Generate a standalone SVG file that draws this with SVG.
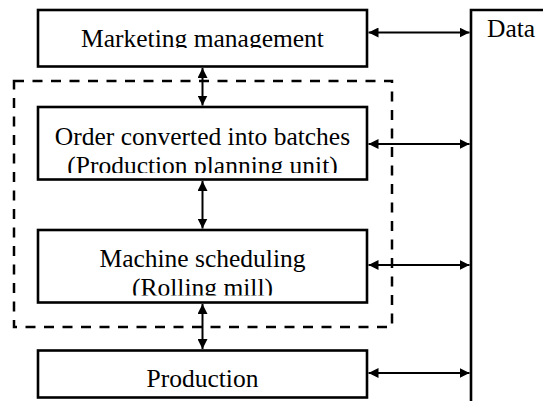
<svg xmlns="http://www.w3.org/2000/svg" width="543" height="401" viewBox="0 0 543 401">
<style>
.box{fill:#fff;stroke:#000;stroke-width:2.6}
.t{font-family:"Liberation Serif","Times New Roman",serif;font-size:25.5px;fill:#000;text-anchor:middle}
.c{stroke:#000;stroke-width:2;fill:none;marker-start:url(#ah);marker-end:url(#ah)}
</style>
<defs>
<marker id="ah" viewBox="0 0 10 10" refX="10" refY="5" markerWidth="10" markerHeight="10" markerUnits="userSpaceOnUse" orient="auto-start-reverse">
<path d="M0,0 L10,5 L0,10 Z" fill="#000"/>
</marker>
<clipPath id="cm"><rect x="38" y="10" width="329" height="38"/></clipPath>
<clipPath id="co"><rect x="38" y="107" width="329" height="66"/></clipPath>
<clipPath id="cs"><rect x="38" y="230" width="329" height="65.5"/></clipPath>
</defs>
<rect x="14" y="81" width="378" height="246" fill="none" stroke="#000" stroke-width="2.5" stroke-dasharray="10,8.5"/>
<g id="data">
<path d="M471,401 V10 H545" fill="none" stroke="#000" stroke-width="2.6"/>
<text class="t" x="487" y="37" style="text-anchor:start">Data</text>
</g>
<g id="marketing">
<rect class="box" x="38" y="10" width="329" height="56.5"/>
<text class="t" x="202.5" y="47" clip-path="url(#cm)">Marketing management</text>
</g>
<g id="order">
<rect class="box" x="38" y="107" width="329" height="72.5"/>
<g clip-path="url(#co)">
<text class="t" x="202.5" y="145">Order converted into batches</text>
<text class="t" x="202.5" y="174">(Production planning unit)</text>
</g>
</g>
<g id="machine">
<rect class="box" x="38" y="230" width="329" height="72.5"/>
<g clip-path="url(#cs)">
<text class="t" x="202.5" y="267">Machine scheduling</text>
<text class="t" x="202.5" y="296">(Rolling mill)</text>
</g>
</g>
<g id="production">
<rect class="box" x="38" y="350.5" width="329" height="47"/>
<text class="t" x="202.5" y="387">Production</text>
</g>
<g id="connectors">
<line class="c" x1="368.5" y1="32.5" x2="469.5" y2="32.5"/>
<line class="c" x1="368.5" y1="144" x2="469.5" y2="144"/>
<line class="c" x1="368.5" y1="265" x2="469.5" y2="265"/>
<line class="c" x1="368.5" y1="373" x2="469.5" y2="373"/>
<line class="c" x1="202.5" y1="68" x2="202.5" y2="105.5"/>
<line class="c" x1="202.5" y1="181" x2="202.5" y2="228.5"/>
<line class="c" x1="202.5" y1="304" x2="202.5" y2="349"/>
</g>
</svg>
